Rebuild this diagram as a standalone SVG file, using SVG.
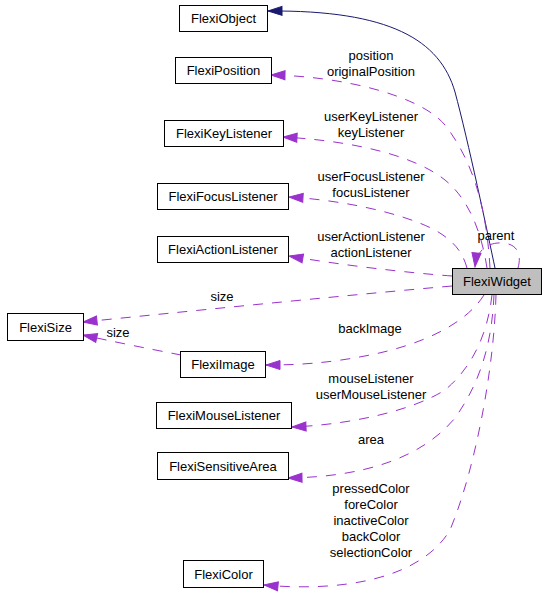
<svg xmlns="http://www.w3.org/2000/svg" width="547" height="600" viewBox="0 0 547 600">
<style>
.n rect{fill:#ffffff;stroke:#000000;stroke-width:1}
#FlexiWidget rect{fill:#bfbfbf}
text{font-family:"Liberation Sans",Arial,Helvetica,sans-serif;font-size:13px;fill:#000000;text-anchor:middle}
.e{fill:none;stroke:#9a32cd;stroke-width:1;stroke-dasharray:10,9}
.i{fill:none;stroke:#191970;stroke-width:1}
</style>
<defs>
<marker id="ap" markerUnits="userSpaceOnUse" markerWidth="15" markerHeight="11" refX="14" refY="5" orient="auto" viewBox="0 0 15 10" overflow="visible">
<path d="M0,0.5 L14,5 L0,9.5 z" fill="#9a32cd" stroke="#9a32cd" stroke-width="1"/>
</marker>
<marker id="an" markerUnits="userSpaceOnUse" markerWidth="15" markerHeight="11" refX="14" refY="5" orient="auto" viewBox="0 0 15 10" overflow="visible">
<path d="M0,0.5 L14,5 L0,9.5 z" fill="#191970" stroke="#191970" stroke-width="1"/>
</marker>
</defs>
<rect width="547" height="600" fill="#ffffff"/>
<g id="edges">
<path class="i" d="M495,268 C488,235 468,140 455,92 C440,40 390,10 268,11" marker-end="url(#an)"/>
<path class="e" d="M490,268 C487,215 476,165 445,125 C420,95 340,76 271,75" marker-end="url(#ap)"/>
<path class="e" d="M487,268 C482,235 470,200 445,180 C410,152 340,140 283,137" marker-end="url(#ap)"/>
<path class="e" d="M467,268 C462,250 452,240 435,230 C400,212 340,200 289,197" marker-end="url(#ap)"/>
<path class="e" d="M452,276 C410,273 340,265 289,256" marker-end="url(#ap)"/>
<path class="e" d="M518,268 C522,254 517,244 503,243 C490,242 477,248 475,267" marker-end="url(#ap)"/>
<path class="e" d="M452,286 C360,294 220,308 83,322" marker-end="url(#ap)"/>
<path class="e" d="M181,355 C150,349 110,341 83,335" marker-end="url(#ap)"/>
<path class="e" d="M484,295 C465,325 420,345 370,355 C330,363 300,365 266,365" marker-end="url(#ap)"/>
<path class="e" d="M492,295 C488,330 475,365 445,390 C410,412 345,425 292,427" marker-end="url(#ap)"/>
<path class="e" d="M494,295 C492,340 482,380 455,418 C420,460 360,477 288,478" marker-end="url(#ap)"/>
<path class="e" d="M496,295 C494,370 475,470 450,530 C420,580 340,592 264,585" marker-end="url(#ap)"/>
<text x="371" y="60">position</text>
<text x="371" y="76">originalPosition</text>
<text x="371" y="121">userKeyListener</text>
<text x="371" y="137">keyListener</text>
<text x="371" y="181">userFocusListener</text>
<text x="371" y="197">focusListener</text>
<text x="371" y="241">userActionListener</text>
<text x="371" y="257">actionListener</text>
<text x="496" y="240">parent</text>
<text x="222" y="301">size</text>
<text x="118" y="337">size</text>
<text x="370" y="333">backImage</text>
<text x="371" y="383">mouseListener</text>
<text x="371" y="399">userMouseListener</text>
<text x="371" y="444">area</text>
<text x="371" y="493">pressedColor</text>
<text x="371" y="509">foreColor</text>
<text x="371" y="525">inactiveColor</text>
<text x="371" y="541">backColor</text>
<text x="371" y="557">selectionColor</text>
</g>
<g id="FlexiWidget" class="n"><rect x="452.5" y="268.5" width="89" height="26"/><text x="497" y="286">FlexiWidget</text></g>
<g id="FlexiObject" class="n"><rect x="179.5" y="5.5" width="88" height="26"/><text x="223.5" y="23">FlexiObject</text></g>
<g id="FlexiPosition" class="n"><rect x="175.5" y="57.5" width="96" height="26"/><text x="223.5" y="75">FlexiPosition</text></g>
<g id="FlexiKeyListener" class="n"><rect x="164.5" y="120.5" width="119" height="26"/><text x="224" y="138">FlexiKeyListener</text></g>
<g id="FlexiFocusListener" class="n"><rect x="157.5" y="183.5" width="131" height="26"/><text x="223" y="201">FlexiFocusListener</text></g>
<g id="FlexiActionListener" class="n"><rect x="157.5" y="236.5" width="131" height="26"/><text x="223" y="254">FlexiActionListener</text></g>
<g id="FlexiSize" class="n"><rect x="7.5" y="313.5" width="76" height="27"/><text x="45.5" y="331.5">FlexiSize</text></g>
<g id="FlexiImage" class="n"><rect x="180.5" y="351.5" width="85" height="26"/><text x="223" y="369">FlexiImage</text></g>
<g id="FlexiMouseListener" class="n"><rect x="156.5" y="402.5" width="135" height="26"/><text x="224" y="420">FlexiMouseListener</text></g>
<g id="FlexiSensitiveArea" class="n"><rect x="157.5" y="452.5" width="131" height="27"/><text x="223" y="470.5">FlexiSensitiveArea</text></g>
<g id="FlexiColor" class="n"><rect x="183.5" y="560.5" width="80" height="27"/><text x="223.5" y="578.5">FlexiColor</text></g>
</svg>
